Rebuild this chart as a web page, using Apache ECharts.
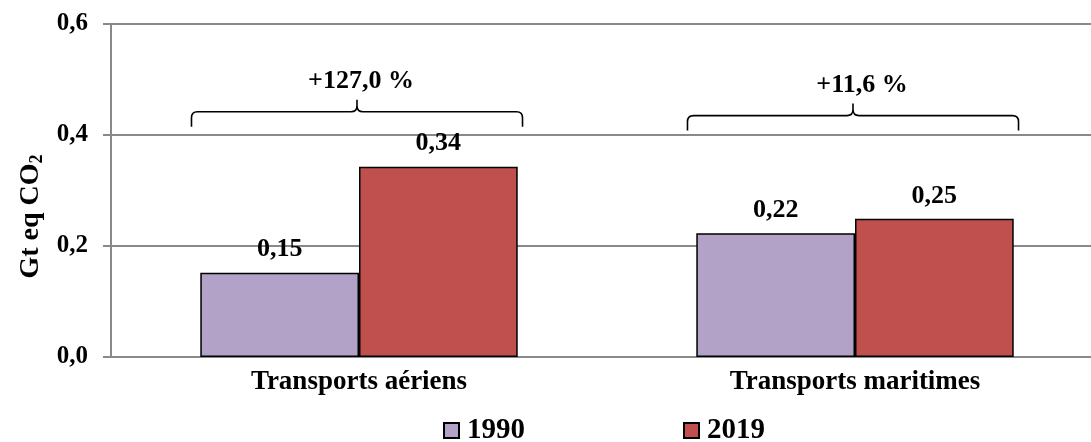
<!DOCTYPE html>
<html>
<head>
<meta charset="utf-8">
<script src="https://cdn.jsdelivr.net/npm/echarts@6/dist/echarts.min.js"></script>
<style>html,body{margin:0;padding:0;background:#fff}#c{width:1091px;height:442px}</style>
</head>
<body>
<div id="c"></div>
<script>
const categories = ['Transports aériens', 'Transports maritimes'];
const values1990 = [0.152, 0.223];
const values2019 = [0.343, 0.249];
const braceLabels = ['+127,0 %', '+11,6 %'];
const yTicks = [0, 0.2, 0.4, 0.6];

const FONT = 'Liberation Serif';
const fmt = v => v.toFixed(2).replace('.', ',');
const BRACE_LEVEL = [0.442, 0.435];
const BRACE_LABEL_DX = [4, 9];

const braceData = categories.map((c, i) => [i, BRACE_LEVEL[i]]);

const chart = echarts.init(document.getElementById('c'));
chart.setOption({
  animation: false,
  textStyle: { fontFamily: FONT },
  grid: { left: 111, width: 992, top: 24, bottom: 85, outerBoundsMode: 'none', containLabel: false },
  legend: {
    data: ['1990', '2019'],
    bottom: -3,
    left: 443,
    padding: 0,
    itemGap: 158,
    itemWidth: 15,
    itemHeight: 15,
    icon: 'rect',
    textStyle: { fontFamily: FONT, fontWeight: 'bold', fontSize: 29, color: '#000', padding: [3, 0, 0, 3] }
  },
  xAxis: {
    type: 'category',
    data: categories,
    axisLine: { lineStyle: { color: '#898989', width: 2 } },
    axisTick: { show: false },
    axisLabel: { fontFamily: FONT, fontWeight: 'bold', fontSize: 27, color: '#000', margin: 12 }
  },
  yAxis: {
    type: 'value',
    min: yTicks[0],
    max: yTicks[yTicks.length - 1],
    interval: 0.2,
    name: '{a|Gt eq CO}{b|2}',
    nameLocation: 'middle',
    nameGap: 62,
    nameRotate: 90,
    nameTextStyle: {
      padding: [0, 52, 0, 0],
      rich: {
        a: { fontFamily: FONT, fontWeight: 'bold', fontSize: 28, color: '#000' },
        b: { fontFamily: FONT, fontWeight: 'bold', fontSize: 18, color: '#000', padding: [12, 0, 0, 0] }
      }
    },
    axisLine: { show: true, lineStyle: { color: '#898989', width: 2 } },
    axisTick: { show: true, length: 8, lineStyle: { color: '#898989', width: 2 } },
    splitLine: { lineStyle: { color: '#898989', width: 2 } },
    axisLabel: {
      fontFamily: FONT, fontWeight: 'bold', fontSize: 25, color: '#000', margin: 23,
      formatter: v => v.toFixed(1).replace('.', ',')
    }
  },
  series: [
    {
      name: '1990', type: 'bar', data: values1990,
      barGap: '0%', barCategoryGap: '36%',
      itemStyle: { color: '#B3A2C7', borderColor: '#000', borderWidth: 1.5 },
      label: { show: true, position: 'top', distance: 10, formatter: p => fmt(p.value),
        fontFamily: FONT, fontWeight: 'bold', fontSize: 26, color: '#000' }
    },
    {
      name: '2019', type: 'bar', data: values2019,
      barGap: '0%', barCategoryGap: '36%',
      itemStyle: { color: '#C0504D', borderColor: '#000', borderWidth: 1.5 },
      label: { show: true, position: 'top', distance: 10, formatter: p => fmt(p.value),
        fontFamily: FONT, fontWeight: 'bold', fontSize: 26, color: '#000' }
    },
    {
      name: 'brace', type: 'custom', data: braceData,
      encode: { x: 0, y: 1 },
      z: 10,
      renderItem: function (params, api) {
        const c = api.coord([api.value(0), api.value(1)]);
        const band = api.size([1, 0])[0];
        const hw = band * 0.3337;
        const xm = c[0] - 2;
        const x0 = xm - hw, x1 = xm + hw;
        const yt = c[1], yb = yt + 15, ytip = yt - 12, r = 6;
        const d =
          `M${x0} ${yb} L${x0} ${yt + r} Q${x0} ${yt} ${x0 + r} ${yt} L${xm - r} ${yt} Q${xm} ${yt} ${xm} ${yt - r} L${xm} ${ytip} ` +
          `M${xm} ${ytip} L${xm} ${yt - r} Q${xm} ${yt} ${xm + r} ${yt} L${x1 - r} ${yt} Q${x1} ${yt} ${x1} ${yt + r} L${x1} ${yb}`;
        return {
          type: 'group',
          children: [
            { type: 'path', shape: { pathData: d }, style: { fill: null, stroke: '#000', lineWidth: 1.6 } },
            { type: 'text', style: { text: braceLabels[params.dataIndex], x: xm + BRACE_LABEL_DX[params.dataIndex], y: ytip - 5,
                align: 'center', verticalAlign: 'bottom', font: 'bold 26px "Liberation Serif"', fill: '#000' } }
          ]
        };
      }
    }
  ]
});
</script>
</body>
</html>
